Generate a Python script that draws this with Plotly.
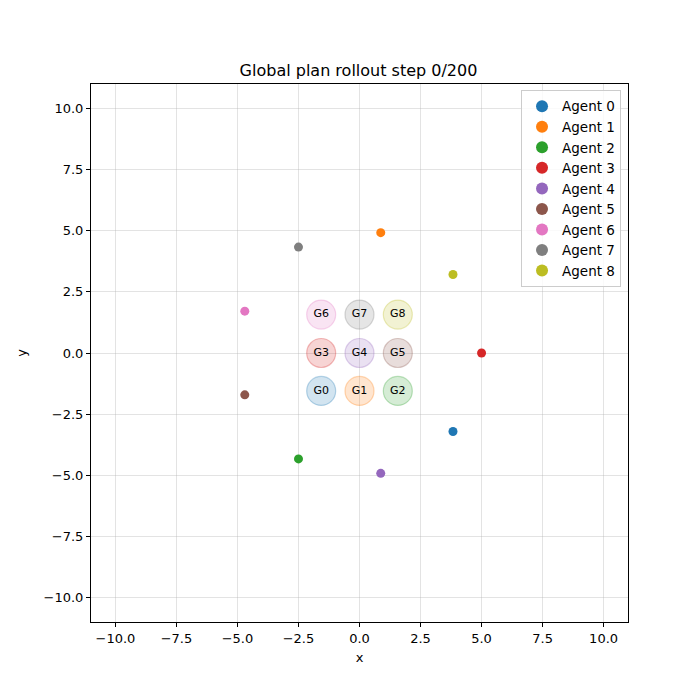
import plotly.graph_objects as go

# tab10 palette
COLORS = ["#1f77b4", "#ff7f0e", "#2ca02c", "#d62728", "#9467bd",
          "#8c564b", "#e377c2", "#7f7f7f", "#bcbd22"]

AGENT_NAMES = [f"Agent {i}" for i in range(9)]
AGENT_X = [3.83, 0.87, -2.50, 5.00, 0.87, -4.70, -4.70, -2.50, 3.83]
AGENT_Y = [-3.21, 4.92, -4.33, 0.00, -4.92, -1.71, 1.71, 4.33, 3.21]

GOAL_LABELS = [f"G{i}" for i in range(9)]
GOAL_X = [-1.57, 0.0, 1.57, -1.57, 0.0, 1.57, -1.57, 0.0, 1.57]
GOAL_Y = [-1.55, -1.55, -1.55, 0.0, 0.0, 0.0, 1.57, 1.57, 1.57]

TICKS = [-10.0, -7.5, -5.0, -2.5, 0.0, 2.5, 5.0, 7.5, 10.0]
TICK_TEXT = ["\u221210.0", "\u22127.5", "\u22125.0", "\u22122.5", "0.0", "2.5", "5.0", "7.5", "10.0"]

FONT = "DejaVu Sans"


def hex_rgba(h, a):
    h = h.lstrip("#")
    return f"rgba({int(h[0:2],16)},{int(h[2:4],16)},{int(h[4:6],16)},{a})"


fig = go.Figure()

# goals: translucent discs with labels
for i in range(9):
    fig.add_trace(go.Scatter(
        x=[GOAL_X[i]], y=[GOAL_Y[i]], mode="markers+text",
        text=[GOAL_LABELS[i]], textposition="middle center",
        textfont=dict(family=FONT, size=11, color="black"),
        marker=dict(size=29, color=hex_rgba(COLORS[i], 0.2),
                    line=dict(color=hex_rgba(COLORS[i], 0.3), width=1.2)),
        showlegend=False, hoverinfo="skip"))

# agents
for i in range(9):
    fig.add_trace(go.Scatter(
        x=[AGENT_X[i]], y=[AGENT_Y[i]], mode="markers", name=AGENT_NAMES[i],
        marker=dict(size=9, color=COLORS[i])))

axis_common = dict(
    range=[-11, 11], tickvals=TICKS, ticktext=TICK_TEXT,
    showgrid=True, gridcolor="rgba(176,176,176,0.35)", gridwidth=1,
    zeroline=False, showline=True, linecolor="black", linewidth=1, mirror=True,
    ticks="outside", ticklen=4, tickcolor="black",
    tickfont=dict(family=FONT, size=13, color="black"),
)

fig.update_layout(
    width=700, height=700,
    paper_bgcolor="white", plot_bgcolor="white",
    margin=dict(l=81, r=80, t=76, b=86),
    title=dict(text="Global plan rollout step 0/200", x=(81 + 620) / 2 / 700, xanchor="center",
               y=1 - 62 / 700, yanchor="middle",
               font=dict(family=FONT, size=16, color="black")),
    xaxis=dict(**axis_common, title=dict(text="x", font=dict(family=FONT, size=13, color="black"),
                                         standoff=8)),
    yaxis=dict(**axis_common, title=dict(text="y", font=dict(family=FONT, size=13, color="black"),
                                         standoff=14)),
    legend=dict(x=0.987, y=0.989, xanchor="right", yanchor="top",
                bgcolor="rgba(255,255,255,0.8)", bordercolor="#cccccc", borderwidth=1,
                font=dict(family=FONT, size=13.5, color="black"),
                itemsizing="constant", tracegroupgap=0),
    showlegend=True,
)

fig.write_html("out.html")
